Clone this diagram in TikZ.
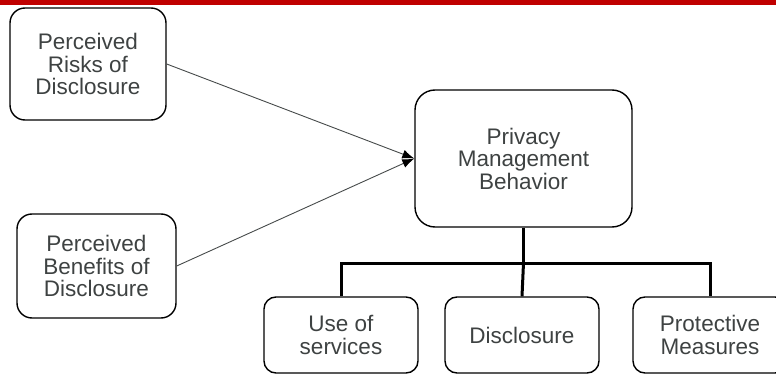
\documentclass[tikz,border=0pt]{standalone}
\usepackage{fontspec}
\setmainfont{Liberation Sans}
\usetikzlibrary{arrows.meta}
\definecolor{bandred}{RGB}{192,0,0}
\definecolor{txt}{RGB}{62,66,66}
\definecolor{linkgray}{RGB}{70,74,74}
\tikzset{
  box/.style={draw=black, line width=1.4pt, align=center, text=txt,
    font=\fontsize{22.5}{22.5}\selectfont, inner sep=0pt},
  link/.style={draw=linkgray, line width=0.9pt,
    -{Latex[length=12pt,width=9pt,color=black]}},
  tree/.style={draw=black, line width=3pt}
}
\begin{document}
\begin{tikzpicture}[x=1pt,y=-1pt]
\useasboundingbox (0,0) rectangle (776,374);
\fill[bandred] (0,0) rectangle (776,5);

\node[box, rounded corners=15pt, minimum width=156pt, minimum height=112pt]
  (risks) at (88,64) {Perceived\\Risks of\\Disclosure};
\node[box, rounded corners=15pt, minimum width=159pt, minimum height=104pt]
  (benefits) at (96.5,266) {Perceived\\Benefits of\\Disclosure};
\node[box, rounded corners=20pt, minimum width=217pt, minimum height=137pt]
  (pmb) at (523.5,158.5) {Privacy\\Management\\Behavior};

\node[box, rounded corners=12pt, minimum width=154pt, minimum height=76pt]
  (use) at (341,335) {Use of\\services};
\node[box, rounded corners=12pt, minimum width=154pt, minimum height=76pt]
  (disc) at (522,335) {Disclosure};
\node[box, rounded corners=12pt, minimum width=154pt, minimum height=76pt]
  (prot) at (710,335) {Protective\\Measures};

\draw[link] (risks.east) -- (pmb.west);
\draw[link] (benefits.east) -- (pmb.west);

\coordinate (joint) at (pmb.south |- 0,263);
\draw[tree] (pmb.south) -- (joint);
\draw[tree] (use.north) -- (use.north |- joint) -- (prot.north |- joint) -- (prot.north);
\draw[tree] (joint) -- (disc.north);
\end{tikzpicture}
\end{document}
